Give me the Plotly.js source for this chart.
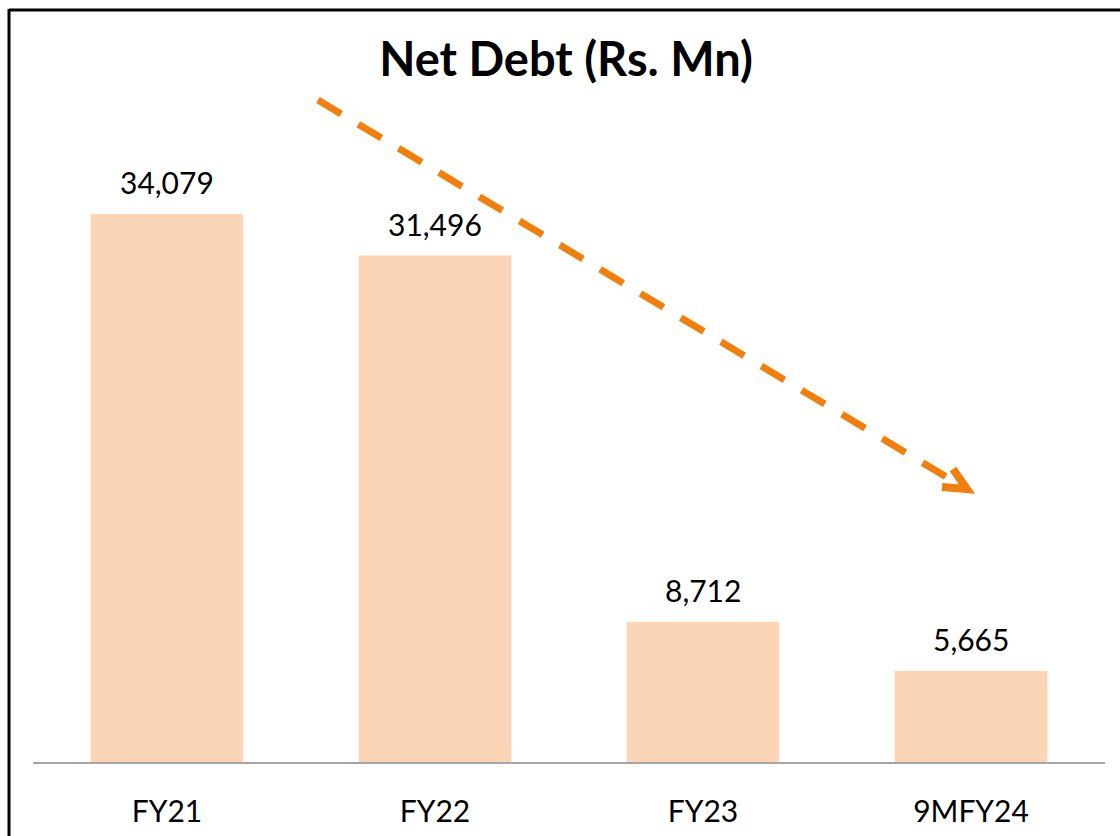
<!DOCTYPE html>
<html>
<head>
<meta charset="utf-8">
<script src="https://cdn.plot.ly/plotly-3.0.1.min.js"></script>
<style>
  html, body { margin: 0; padding: 0; background: #fff; }
  #chart { width: 1120px; height: 836px; }
</style>
</head>
<body>
<div id="chart"></div>
<script>
const categories = ["FY21", "FY22", "FY23", "9MFY24"];
const netDebt = [34079, 31496, 8712, 5665];
const valueLabels = ["34,079", "31,496", "8,712", "5,665"];
const chartTitle = "Net Debt (Rs. Mn)";

const FONT = "Lato, 'Open Sans', sans-serif";
const ORANGE = "#F27F0C";

const trace = {
  type: "bar",
  x: categories,
  y: netDebt,
  marker: { color: "#FBD5B5", line: { width: 0 } },
  hoverinfo: "skip",
  showlegend: false
};

const annotations = categories.map((c, i) => ({
  x: c, y: netDebt[i], xref: "x", yref: "y",
  text: valueLabels[i], showarrow: false,
  yanchor: "bottom", yshift: 12,
  font: { family: FONT, size: 30, color: "#000" }
}));

// helpers: pixel -> paper for decorative shapes (plot area 33..1105 x 100..762)
const L = 33, R = 1105, T = 100, B = 762;
const px = v => (v - L) / (R - L);
const py = v => (B - v) / (B - T);

const shapes = [
  // frame (top and left)
  { type: "line", xref: "paper", yref: "paper", x0: px(9), x1: px(1125), y0: py(10), y1: py(10),
    line: { color: "#000", width: 3 } },
  { type: "line", xref: "paper", yref: "paper", x0: px(9), x1: px(9), y0: py(9), y1: py(840),
    line: { color: "#000", width: 3 } },
  // dashed trend arrow
  { type: "line", xref: "paper", yref: "paper", x0: px(318), y0: py(100), x1: px(958), y1: py(484),
    line: { color: ORANGE, width: 7, dash: "27px,20px" } },
  { type: "path", xref: "paper", yref: "paper",
    path: `M ${px(953)} ${py(469)} L ${px(967)} ${py(489)} L ${px(942)} ${py(487)}`,
    line: { color: ORANGE, width: 8 }, fillcolor: "rgba(0,0,0,0)" }
];

const layout = {
  width: 1120, height: 836,
  margin: { l: L, r: 1120 - R, t: T, b: 836 - B },
  paper_bgcolor: "#fff", plot_bgcolor: "#fff",
  title: {
    text: "<b>" + chartTitle + "</b>",
    x: 566 / 1120, xref: "container", xanchor: "center",
    y: 1 - 60 / 836, yref: "container", yanchor: "middle",
    font: { family: FONT, size: 47, color: "#000" }
  },
  bargap: 0.43,
  xaxis: {
    type: "category", range: [-0.5, 3.5],
    showline: true, linecolor: "#A6A6A6", linewidth: 2,
    ticks: "", ticklabelstandoff: 22,
    tickfont: { family: FONT, size: 30, color: "#000" },
    showgrid: false, zeroline: false, fixedrange: true
  },
  yaxis: {
    range: [0, (B - T) / (548 / 34079)],
    visible: false, showgrid: false, zeroline: false, fixedrange: true
  },
  annotations: annotations,
  shapes: shapes
};

Plotly.newPlot("chart", [trace], layout, { displayModeBar: false, staticPlot: true });
</script>
</body>
</html>
